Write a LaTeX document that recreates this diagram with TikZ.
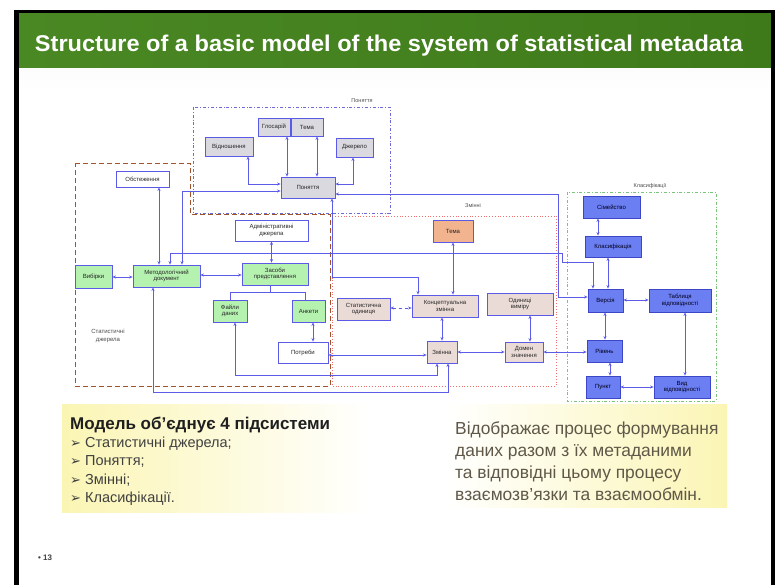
\documentclass[tikz,border=0pt]{standalone}
\usepackage{fontspec}
\setmainfont{Liberation Sans}
\newfontfamily\dingfont{DejaVu Sans}
\usetikzlibrary{arrows.meta,backgrounds}

\definecolor{boxblue}{HTML}{5A5AE6}
\definecolor{linkblue}{HTML}{5C5CE8}
\definecolor{greyfill}{HTML}{D9D9DF}
\definecolor{greenfill}{HTML}{B5F2B0}
\definecolor{sandfill}{HTML}{EADBD6}
\definecolor{salmon}{HTML}{F2B48E}
\definecolor{clsfill}{HTML}{6B7EF2}
\definecolor{clsedge}{HTML}{3E46C8}
\definecolor{grpconcept}{HTML}{6C6CD6}
\definecolor{grpsource}{HTML}{A0522D}
\definecolor{grpvar}{HTML}{F07070}
\definecolor{grpclass}{HTML}{7CC47C}
\definecolor{hdrdark}{HTML}{4A8824}
\definecolor{hdrlight}{HTML}{93C552}
\definecolor{hdrdarkR}{HTML}{3F7A1A}
\definecolor{notetext}{HTML}{5F5848}
\definecolor{noteyellow}{HTML}{FBF5B4}
\definecolor{swoosh}{HTML}{EEF2EA}

\tikzset{
  lbl/.style={font=\fontsize{6}{6.6}\selectfont, text=black!85, align=center, inner sep=0pt},
  box/.style={lbl, draw=boxblue, line width=0.7pt},
  greybox/.style={box, fill=greyfill},
  whitebox/.style={box, fill=white},
  greenbox/.style={box, fill=greenfill},
  sandbox/.style={box, fill=sandfill},
  salmonbox/.style={box, fill=salmon},
  clsbox/.style={box, draw=clsedge, fill=clsfill, text=black!90!blue},
  grouptitle/.style={font=\fontsize{5.5}{6}\selectfont, text=black!70, inner sep=0pt},
  link/.style={draw=linkblue, line width=0.75pt},
  both/.style={link, {Stealth[length=3.6pt,width=3pt]}-{Stealth[length=3.6pt,width=3pt]}},
  notebody/.style={anchor=base west, inner sep=0pt, font=\fontsize{14.5}{17}\selectfont, text=black!75},
  noteright/.style={anchor=base west, inner sep=0pt, font=\fontsize{17.4}{20}\selectfont, text=notetext},
}
\newcommand{\notebullet}{{\dingfont\fontsize{13}{13}\selectfont ➢}}

\begin{document}
\begin{tikzpicture}[x=1pt,y=-1pt]
\useasboundingbox (0,0) rectangle (778,585);

% ---------- slide background ----------
\begin{scope}[on background layer]
\fill[white] (0,0) rectangle (778,585);
\shade[top color=swoosh!90!black!8, bottom color=white] (19,68) rectangle (771,92);
\end{scope}

% title bar
\shade[left color=hdrdark, middle color=hdrlight, right color=hdrdarkR] (19,13) rectangle (771,68);
\node[anchor=base, inner sep=0pt, text=white, font=\bfseries\fontsize{22}{22}\selectfont] (title) at (389,52)
  {\resizebox{708pt}{16.5pt}{Structure of a basic model of the system of statistical metadata}};

% slide frame
\fill[black] (14,10) rectangle (775,13);
\fill[black] (14,10) rectangle (19,585);
\fill[black] (771,10) rectangle (775,585);

% ---------- subsystem "Поняття" ----------
\node[greybox, minimum width=32pt, minimum height=18pt] (glos)  at (274,127)   {Глосарій};
\node[greybox, minimum width=32pt, minimum height=18pt] (temaA) at (307,127)   {Тема};
\node[greybox, minimum width=48pt, minimum height=19pt] (vidn)  at (229,146.5) {Відношення};
\node[greybox, minimum width=37pt, minimum height=19pt] (dzh)   at (354.5,147.5) {Джерело};
\node[greybox, minimum width=54pt, minimum height=21pt] (pon)   at (308,187.5) {Поняття};

% ---------- subsystem "Статистичні джерела" ----------
\node[whitebox, minimum width=53pt, minimum height=16pt] (obst)   at (142.5,179) {Обстеження};
\node[whitebox, minimum width=73pt, minimum height=21pt] (adm)    at (271.5,230.5) {Адміністративні\\джерела};
\node[greenbox, minimum width=37pt, minimum height=23pt] (vyb)    at (93.5,276.5) {Вибірки};
\node[greenbox, minimum width=67pt, minimum height=22pt] (metod)  at (166.5,276) {Методологічний\\документ};
\node[greenbox, minimum width=66pt, minimum height=22pt] (zasoby) at (275,274) {Засоби\\представлення};
\node[greenbox, minimum width=34pt, minimum height=22pt] (fayly)  at (230,311) {Файли\\даних};
\node[greenbox, minimum width=33pt, minimum height=22pt] (anket)  at (308.5,311) {Анкети};
\node[whitebox, minimum width=50pt, minimum height=21pt] (potr)   at (303,352.5) {Потреби};
\node[grouptitle, align=center, font=\fontsize{6}{7.5}\selectfont] (srcttl) at (108,336) {Статистичні\\джерела};

% ---------- subsystem "Змінні" ----------
\node[salmonbox, minimum width=40pt, minimum height=22pt] (temaB)  at (453,231) {Тема};
\node[sandbox,   minimum width=53pt, minimum height=22pt] (statod) at (363.5,309) {Статистична\\одиниця};
\node[sandbox,   minimum width=66pt, minimum height=22pt] (konc)   at (445,306) {Концептуальна\\змінна};
\node[sandbox,   minimum width=66pt, minimum height=22pt] (odyn)   at (520,304) {Одиниці\\виміру};
\node[sandbox,   minimum width=30pt, minimum height=22pt] (zmin)   at (442,352) {Змінна};
\node[sandbox,   minimum width=38pt, minimum height=20pt] (domen)  at (524,352) {Домен\\значення};

% ---------- subsystem "Класифікації" ----------
\node[clsbox, minimum width=57pt, minimum height=22pt] (sim)   at (611.5,207) {Сімейство};
\node[clsbox, minimum width=56pt, minimum height=21pt] (klas)  at (613,246.5) {Класифікація};
\node[clsbox, minimum width=35pt, minimum height=23pt] (vers)  at (605.5,300.5) {Версія};
\node[clsbox, minimum width=62pt, minimum height=23pt] (tabl)  at (680,300.5) {Таблиця\\відповідності};
\node[clsbox, minimum width=35pt, minimum height=22pt] (riv)   at (604.5,351) {Рівень};
\node[clsbox, minimum width=34pt, minimum height=22pt] (punkt) at (603,387) {Пункт};
\node[clsbox, minimum width=56pt, minimum height=22pt] (vyd)   at (682,387) {Вид\\відповідності};

% group titles
\node[grouptitle] (ponttl) at (362,101) {Поняття};
\node[grouptitle] (zmittl) at (473,206) {Змінні};
\node[grouptitle] (klattl) at (650,186) {Класифікації};

% ---------- group frames and connectors (behind the boxes) ----------
\begin{scope}[on background layer]
\draw[grpconcept, line width=0.7pt, dash dot] (193,107) rectangle (390,213);
\draw[grpsource, line width=0.8pt, dash pattern=on 5pt off 3pt]
  (75,163) -- (190,163) -- (190,214) -- (330,214) -- (330,386) -- (75,386) -- cycle;
\draw[grpvar, line width=0.8pt, dotted] (332,216) rectangle (556,386);
\draw[grpclass, line width=0.7pt, dash dot] (567,192) rectangle (716,401);

% concepts
\draw[both] (vidn.south -| 248,0) |- (pon.west |- 0,184);
\draw[both] (glos.south -| 287,0) -- (pon.north -| 287,0);
\draw[both] (temaA.south -| 317,0) -- (pon.north -| 317,0);
\draw[both] (dzh.south -| 353,0) |- (pon.east |- 0,184);

% methodology document links
\draw[both] (metod.north -| 182,0) |- (pon.west |- 0,191);
\draw[both] (obst.south -| 159,0) -- (metod.north -| 159,0);
\draw[both] (metod.north -| 170,0) -- (170,253) -- (562,253) -- (562,262) -- (593,262) -- (vers.north -| 593,0);
\draw[both] (pon.east |- 0,194) -- (558,194) -- (558,297) -- (vers.west |- 0,297);
\draw[both] (pon.south -| 332,0) -- (332,277) -- (418,277) -- (konc.north -| 418,0);

% statistical sources
\draw[both] (adm.south) -- (zasoby.north -| adm.south);
\draw[both] (vyb.east |- 0,277) -- (metod.west |- 0,277);
\draw[both] (metod.east |- 0,275) -- (zasoby.west |- 0,275);
\draw[link] (zasoby.south -| 270,0) -- (270,292);
\draw[link] (fayly.north -| 230,0) -- (230,292) -- (305,292) -- (anket.north -| 305,0);
\draw[both] (anket.south -| 313,0) -- (potr.north -| 313,0);
\draw[both] (fayly.south -| 235,0) -- (235,375) -- (437,375) -- (zmin.south -| 437,0);
\draw[both] (metod.south -| 153,0) -- (153,392) -- (448,392) -- (zmin.south -| 448,0);
\draw[both] (zmin.west |- 0,355) -- (potr.east |- 0,355);

% variables
\draw[both] (temaB.south) -- (konc.north -| temaB.south);
\draw[both, dashed] (statod.east |- 0,308) -- (konc.west |- 0,308);
\draw[both] (konc.south -| 442,0) -- (zmin.north);
\draw[both] (odyn.south -| 530,0) -- (domen.north -| 530,0);
\draw[both] (zmin.east |- 0,352) -- (domen.west |- 0,352);
\draw[both] (domen.east |- 0,352) -- (riv.west |- 0,352);

% classifications
\draw[both] (sim.south -| 598,0) -- (klas.north -| 598,0);
\draw[both] (klas.south -| 608,0) -- (vers.north -| 608,0);
\draw[both] (vers.east |- 0,300) -- (tabl.west |- 0,300);
\draw[both] (vers.south -| 605,0) -- (riv.north -| 605,0);
\draw[both] (riv.south -| 610,0) -- (punkt.north -| 610,0);
\draw[both] (tabl.south -| 685,0) -- (vyd.north -| 685,0);
\draw[both] (punkt.east |- 0,387) -- (vyd.west |- 0,387);
\end{scope}

% ---------- notes ----------
\begin{scope}[on background layer]
\shade[left color=noteyellow, right color=white] (62,404) rectangle (372,512);
\shade[left color=white, right color=noteyellow] (445,404) rectangle (727,507);
\end{scope}
\node[anchor=base west, inner sep=0pt, font=\bfseries\fontsize{17}{17}\selectfont, text=black!88] (nhead) at (70,429)
  {Модель об’єднує 4 підсистеми};
\node[notebody] (n1) at (70,447)   {\notebullet\ Статистичні джерела;};
\node[notebody] (n2) at (70,465.5) {\notebullet\ Поняття;};
\node[notebody] (n3) at (70,484)   {\notebullet\ Змінні;};
\node[notebody] (n4) at (70,502.5) {\notebullet\ Класифікації.};

\node[noteright] (r1) at (455,434) {Відображає процес формування};
\node[noteright] (r2) at (455,456) {даних разом з їх метаданими};
\node[noteright] (r3) at (455,478) {та відповідні цьому процесу};
\node[noteright] (r4) at (455,500) {взаємозв’язки та взаємообмін.};

% slide number
\node[anchor=base west, inner sep=0pt, font=\bfseries\fontsize{8}{8}\selectfont, text=black!75] (pgno) at (38,560) {• 13};
\end{tikzpicture}
\end{document}
